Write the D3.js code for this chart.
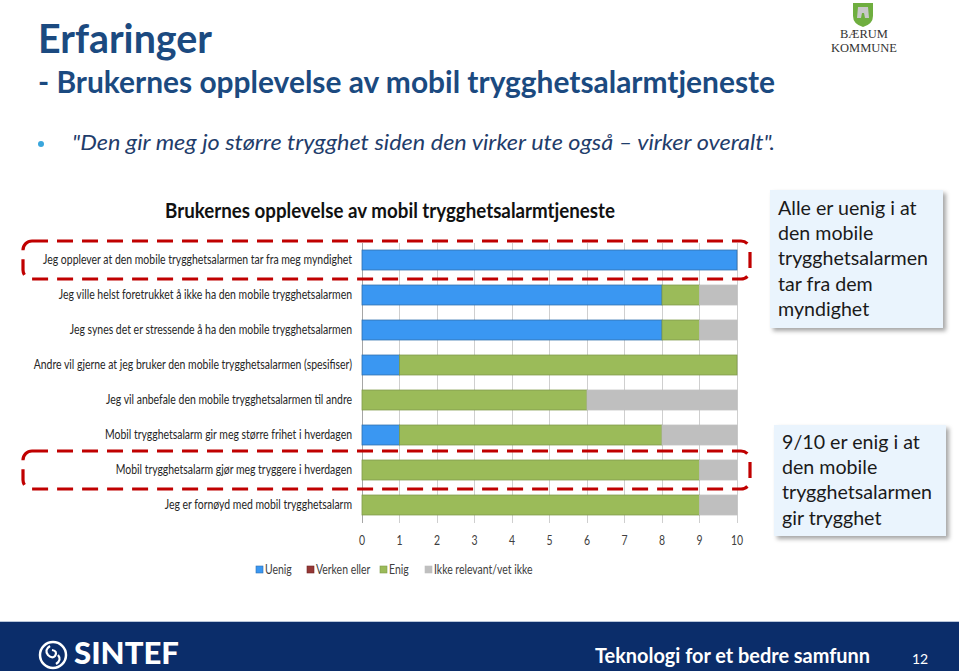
<!DOCTYPE html>
<html><head><meta charset="utf-8">
<script src="https://cdn.jsdelivr.net/npm/d3@7/dist/d3.min.js"></script>
<style>
html,body{margin:0;padding:0;background:#fff;}
svg{display:block;}
</style></head>
<body>
<svg id="c" width="959" height="671" font-family="Lato, 'Open Sans', sans-serif"></svg>
<script>
// ---------- data ----------
const categories = [
  "Jeg opplever at den mobile trygghetsalarmen tar fra meg myndighet",
  "Jeg ville helst foretrukket å ikke ha den mobile trygghetsalarmen",
  "Jeg synes det er stressende å ha den mobile trygghetsalarmen",
  "Andre vil gjerne at jeg bruker den mobile trygghetsalarmen (spesifiser)",
  "Jeg vil anbefale den mobile trygghetsalarmen til andre",
  "Mobil trygghetsalarm gir meg større frihet i hverdagen",
  "Mobil trygghetsalarm gjør meg tryggere i hverdagen",
  "Jeg er fornøyd med mobil trygghetsalarm"
];
const seriesNames = ["Uenig", "Verken eller", "Enig", "Ikke relevant/vet ikke"];
const uenig  = [10, 8, 8, 1, 0, 1, 0, 0];
const verken = [0, 0, 0, 0, 0, 0, 0, 0];
const enig   = [0, 1, 1, 9, 6, 7, 9, 9];
const ikke   = [0, 1, 1, 0, 4, 2, 1, 1];
const tickValues = [0, 1, 2, 3, 4, 5, 6, 7, 8, 9, 10];
const chartTitle = "Brukernes opplevelse av mobil trygghetsalarmtjeneste";
const slideTitle = "Erfaringer";
const slideSubtitle = "- Brukernes opplevelse av mobil trygghetsalarmtjeneste";
const quote = "\"Den gir meg jo større trygghet siden den virker ute også – virker overalt\".";
const callout1 = ["Alle er uenig i at", "den mobile", "trygghetsalarmen", "tar fra dem", "myndighet"];
const callout2 = ["9/10 er enig i at", "den mobile", "trygghetsalarmen", "gir trygghet"];
const highlightRows = [0, 6];
const footerText = "Teknologi for et bedre samfunn";
const pageNumber = "12";

// ---------- helpers ----------
const svg = d3.select("#c");
function fit(sel, w) {
  const n = sel.node();
  const cur = parseFloat(sel.attr("font-size"));
  const len = n.getComputedTextLength();
  if (len > 0) sel.attr("font-size", cur * w / len);
  return sel;
}
// compress glyphs horizontally (Calibri-like narrowness)
function squeeze(sel, k) {
  sel.each(function () {
    const L = this.getComputedTextLength();
    d3.select(this).attr("textLength", L * k).attr("lengthAdjust", "spacingAndGlyphs");
  });
}

const defs = svg.append("defs");
const f = defs.append("filter").attr("id", "sh").attr("x", "-10%").attr("y", "-10%").attr("width", "130%").attr("height", "130%");
f.append("feDropShadow").attr("dx", 3).attr("dy", 3).attr("stdDeviation", 2).attr("flood-color", "#000").attr("flood-opacity", 0.35);

// ---------- slide header ----------
const navy = "#1b4a80";
const t1 = svg.append("text").attr("x", 38).attr("y", 53).attr("font-size", 41).attr("font-weight", 700)
  .attr("fill", navy).text(slideTitle);
squeeze(t1, 174 / t1.node().getComputedTextLength());
const t2 = svg.append("text").attr("x", 38).attr("y", 93).attr("font-size", 30).attr("font-weight", 700)
  .attr("fill", navy).text(slideSubtitle);
squeeze(t2, 737 / t2.node().getComputedTextLength());
svg.append("circle").attr("cx", 41).attr("cy", 144).attr("r", 3).attr("fill", "#3aa6dc");
const t3 = svg.append("text").attr("x", 72).attr("y", 150).attr("font-size", 21).attr("font-style", "italic")
  .attr("fill", "#1f3d6b").text(quote);
squeeze(t3, 703 / t3.node().getComputedTextLength());

// Bærum logo
const logo = svg.append("g");
logo.append("path").attr("d", "M853,3 L873,3 L873,16 Q873,24 863,27 Q853,24 853,16 Z").attr("fill", "#6fae3f");
logo.append("path").attr("d", "M858,7 L868,7 L869,18 L865,18 L864,13 L862,13 L861,18 L857,18 Z").attr("fill", "#c8c8c8");
logo.append("text").attr("x", 864).attr("y", 38).attr("text-anchor", "middle").style("font-family", "'Liberation Serif', serif")
  .attr("font-size", 12.5).attr("fill", "#333").text("BÆRUM");
logo.append("text").attr("x", 864).attr("y", 52).attr("text-anchor", "middle").style("font-family", "'Liberation Serif', serif")
  .attr("font-size", 12.5).attr("fill", "#333").text("KOMMUNE");

// ---------- chart ----------
const x = d3.scaleLinear().domain([0, 10]).range([362, 737]);
const y = d3.scaleBand().domain(categories).range([242.5, 522.5]).paddingInner(0.43).paddingOuter(0.215);

const ct = svg.append("text").attr("x", 165).attr("y", 218).attr("font-size", 21)
  .attr("font-weight", 700).attr("fill", "#111").text(chartTitle);
squeeze(ct, 450 / ct.node().getComputedTextLength());

// gridlines
svg.append("g").selectAll("line").data(tickValues).join("line")
  .attr("x1", d => x(d)).attr("x2", d => x(d)).attr("y1", 242.5).attr("y2", 522.5)
  .attr("stroke", d => d === 0 ? "#a6a6a6" : "#cfcfcf").attr("stroke-width", 1).attr("shape-rendering", "crispEdges");

// stacked bars
const rows = categories.map((c, i) => ({ cat: c, "Uenig": uenig[i], "Verken eller": verken[i], "Enig": enig[i], "Ikke relevant/vet ikke": ikke[i] }));
const stack = d3.stack().keys(seriesNames)(rows);
const fills = { "Uenig": "#3a97f2", "Verken eller": "#953735", "Enig": "#9bbb59", "Ikke relevant/vet ikke": "#bfbfbf" };
const strokes = { "Uenig": "#2f6fae", "Verken eller": "#6e2725", "Enig": "#7f9b49", "Ikke relevant/vet ikke": "#bfbfbf" };
svg.append("g").selectAll("g").data(stack).join("g")
  .attr("fill", d => fills[d.key]).attr("stroke", d => strokes[d.key]).attr("stroke-width", 0.8)
  .selectAll("rect").data(d => d.filter(s => s[1] - s[0] > 0)).join("rect")
  .attr("x", d => x(d[0])).attr("width", d => x(d[1]) - x(d[0]))
  .attr("y", d => y(d.data.cat)).attr("height", y.bandwidth());

// category labels
const labs = svg.append("g").selectAll("text").data(categories).join("text")
  .attr("x", 352).attr("y", d => y(d) + y.bandwidth() / 2 + 4).attr("text-anchor", "end")
  .attr("font-size", 12.5).attr("fill", "#262626").text(d => d);
const k = 309 / labs.nodes()[0].getComputedTextLength();
squeeze(labs, k);

// tick labels
const tl = svg.append("g").selectAll("text").data(tickValues).join("text")
  .attr("x", d => x(d)).attr("y", 545).attr("text-anchor", "middle").attr("font-size", 12.5)
  .attr("fill", "#404040").text(d => d);
squeeze(tl, k);

// legend
const legX = [256, 307, 380, 425];
const lg = svg.append("g").selectAll("g").data(seriesNames).join("g")
  .attr("transform", (d, i) => `translate(${legX[i]},566)`);
lg.append("rect").attr("width", 7).attr("height", 7).attr("fill", d => fills[d]).attr("stroke", d => strokes[d]).attr("stroke-width", 0.6);
const lt = lg.append("text").attr("x", 9).attr("y", 8).attr("font-size", 12.5).attr("fill", "#404040").text(d => d);
squeeze(lt, k);

// highlight dashed boxes
svg.append("g").selectAll("rect").data(highlightRows).join("rect")
  .attr("x", 23).attr("width", 727)
  .attr("y", d => y(categories[d]) + y.bandwidth() / 2 - 19).attr("height", 38)
  .attr("rx", 9).attr("fill", "none").attr("stroke", "#c00000").attr("stroke-width", 3.2)
  .attr("stroke-dasharray", "16 9");

// callouts
function callout(x0, y0, w, h, lines, tx, ty, lh) {
  const g = svg.append("g");
  g.append("rect").attr("x", x0).attr("y", y0).attr("width", w).attr("height", h)
    .attr("fill", "#eaf4fd").attr("filter", "url(#sh)");
  const tt = g.selectAll("text").data(lines).join("text")
    .attr("x", tx).attr("y", (d, i) => ty + i * lh).attr("font-size", 20).attr("fill", "#1a1a1a").text(d => d);
  const t = tt.filter(d => d === "trygghetsalarmen");
  squeeze(tt, 150 / t.node().getComputedTextLength());
}
callout(770, 190, 173, 138, callout1, 778, 215, 25.2);
callout(774, 425, 172, 111, callout2, 782, 449, 25.2);

// ---------- footer ----------
svg.append("rect").attr("x", 0).attr("y", 622).attr("width", 959).attr("height", 49).attr("fill", "#0b2d6a");
svg.append("line").attr("x1", 0).attr("x2", 959).attr("y1", 621.5).attr("y2", 621.5).attr("stroke", "#b9c6da");
const ft = svg.append("text").attr("x", 595).attr("y", 663).attr("font-size", 21).attr("font-weight", 700)
  .attr("fill", "#fff").text(footerText);
squeeze(ft, 275 / ft.node().getComputedTextLength());
svg.append("text").attr("x", 920).attr("y", 664).attr("text-anchor", "middle").attr("font-size", 14)
  .attr("fill", "#fff").text(pageNumber);
// SINTEF logo
svg.append("circle").attr("cx", 53).attr("cy", 655).attr("r", 13).attr("fill", "none").attr("stroke", "#fff").attr("stroke-width", 2.5);
svg.append("path").attr("d", "M50,646 Q44,650 48,655 Q52,659 55,656 Q58,651 52,650 M56,664 Q62,660 58,655")
  .attr("fill", "none").attr("stroke", "#fff").attr("stroke-width", 2.2);
fit(svg.append("text").attr("x", 74).attr("y", 664).attr("font-size", 24).attr("font-weight", 900)
  .attr("fill", "#fff").text("SINTEF"), 105);
</script>
</body></html>
